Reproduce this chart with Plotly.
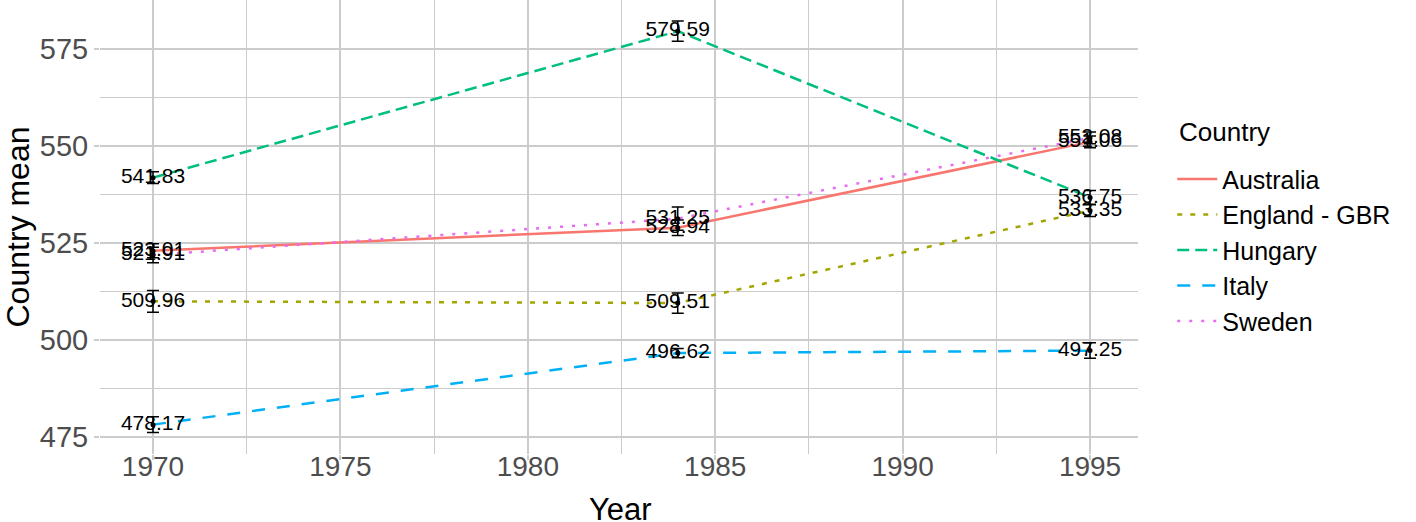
import plotly.graph_objects as go

years = [1970, 1984, 1995]
countries = ["Australia", "England - GBR", "Hungary", "Italy", "Sweden"]
means = {
    "Australia": [523.01, 528.94, 551.06],
    "England - GBR": [509.96, 509.51, 533.35],
    "Hungary": [541.83, 579.59, 536.75],
    "Italy": [478.17, 496.62, 497.25],
    "Sweden": [521.91, 531.25, 552.08],
}
ses = {
    "Australia": [1.8, 2.0, 1.5],
    "England - GBR": [2.8, 2.6, 1.5],
    "Hungary": [1.5, 2.6, 1.8],
    "Italy": [2.0, 1.2, 2.0],
    "Sweden": [2.0, 3.0, 1.5],
}
colors = ["#F8766D", "#A3A500", "#00BF7D", "#00B0F6", "#E76BF3"]
dashes = ["solid", "5px,8px", "12px,6px", "13px,12px", "3px,9px"]

FONT = "Arial, Liberation Sans, sans-serif"
fig = go.Figure()

# lines
for c, col, d in zip(countries, colors, dashes):
    fig.add_trace(go.Scatter(x=years, y=means[c], mode="lines", name=c,
                             line=dict(color=col, width=2.5, dash=d)))
# error bars + points
for c in countries:
    fig.add_trace(go.Scatter(x=years, y=means[c], mode="markers", showlegend=False,
                             marker=dict(color="black", size=5),
                             error_y=dict(type="data", array=ses[c], color="black",
                                          thickness=1.5, width=6),
                             hoverinfo="skip"))
# text labels
for c in countries:
    fig.add_trace(go.Scatter(x=years, y=means[c], mode="text", showlegend=False,
                             text=[f"{v:.2f}" for v in means[c]],
                             textposition="middle center",
                             textfont=dict(family=FONT, size=21, color="black"),
                             hoverinfo="skip"))

grid = "#CCCCCC"
fig.update_layout(
    width=1416, height=522,
    margin=dict(l=100, r=278, t=0, b=68),
    paper_bgcolor="white", plot_bgcolor="white",
    font=dict(family=FONT, color="#4D4D4D"),
    legend=dict(x=1.033, xanchor="left", y=0.656, yanchor="top",
                font=dict(size=25, color="black"),
                tracegroupgap=0, itemwidth=40, bgcolor="rgba(0,0,0,0)"),
    annotations=[
        dict(text="Country", xref="paper", yref="paper", x=1.0376, y=0.709,
             xanchor="left", yanchor="middle", showarrow=False,
             font=dict(size=26, color="black", family=FONT)),
        dict(text="Year", xref="paper", yref="paper", x=0.501, y=-0.123,
             xanchor="center", yanchor="middle", showarrow=False,
             font=dict(size=31, color="black", family=FONT)),
    ],
    xaxis=dict(range=[1968.586, 1996.28], tickvals=[1970, 1975, 1980, 1985, 1990, 1995],
               automargin=False,
               showgrid=True, gridcolor=grid, gridwidth=1.5, zeroline=False,
               ticks="outside", ticklen=5, tickcolor=grid, tickwidth=1.5,
               ticklabelstandoff=-18,
               tickfont=dict(size=28, color="#4D4D4D"),
               minor=dict(tickvals=[1972.5, 1977.5, 1982.5, 1987.5, 1992.5],
                          showgrid=True, gridcolor=grid, gridwidth=1)),
    yaxis=dict(range=[470.6, 587.63], tickvals=[475, 500, 525, 550, 575],
               automargin=False,
               showgrid=True, gridcolor=grid, gridwidth=1.5, zeroline=False,
               ticks="outside", ticklen=5, tickcolor=grid, tickwidth=1.5,
               tickfont=dict(size=29, color="#4D4D4D"),
               minor=dict(tickvals=[487.5, 512.5, 537.5, 562.5],
                          showgrid=True, gridcolor=grid, gridwidth=1),
               title=dict(text="Country mean", font=dict(size=32, color="black"), standoff=6)),
)

fig.write_html("out.html", config={"displayModeBar": False},
               post_script="document.body.style.margin='0';")
